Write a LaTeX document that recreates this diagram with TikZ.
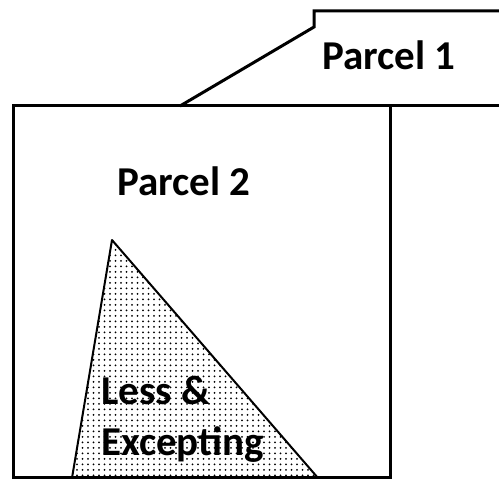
\documentclass[tikz,border=0pt]{standalone}
\usepackage{fontspec}
\setmainfont{Carlito}
\usetikzlibrary{patterns.meta}
\begin{document}
\begin{tikzpicture}[x=1pt, y=-1pt,
    parcel/.style={line width=3pt, line join=miter},
    carve/.style={line width=2pt, line join=round, pattern={Dots[radius=1pt, distance=5.5pt]}, pattern color=black},
    label/.style={anchor=base west, inner sep=0pt, font=\fontsize{41}{44}\selectfont\bfseries}
]
\useasboundingbox (0,0) rectangle (499,481);

% parcel outlines
\draw[parcel] (499,11) -- (314,11) -- (314,27) -- (180,106);
\draw[parcel] (499,106) -- (13,106) -- (13,478) -- (390,478) -- (390,106);

% less & excepting area
\draw[carve] (112,240) -- (72,478) -- (318,478) -- cycle;
\draw[parcel] (13,478) -- (390,478);

\node[label] (p1) at (322,70) {Parcel 1};
\node[label] (p2) at (117,196) {Parcel 2};
\node[label] (le1) at (101,405) {Less \&};
\node[label] (le2) at (101,456) {Excepting};
\end{tikzpicture}
\end{document}
